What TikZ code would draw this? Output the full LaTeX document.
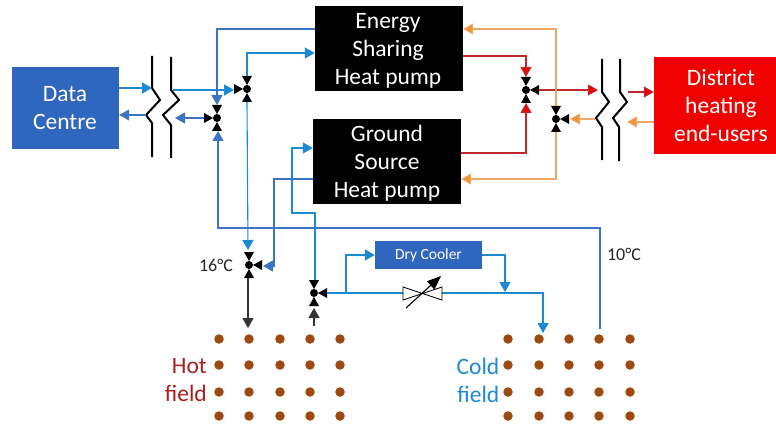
\documentclass[tikz,border=0pt]{standalone}
\usepackage{fontspec}
\setmainfont{Carlito}
\usepackage{xcolor}
\definecolor{boxblue}{HTML}{2F66BE}
\definecolor{lineblue}{HTML}{1B8AD3}
\definecolor{darkblue}{HTML}{3A74C2}
\definecolor{hotred}{HTML}{F00000}
\definecolor{linered}{HTML}{C0272D}
\definecolor{linetan}{HTML}{EDA868}
\definecolor{headorange}{HTML}{F39234}
\definecolor{wellbrown}{HTML}{9C4A12}
\definecolor{hotlabel}{HTML}{A82020}
\usepackage{tikz}
\usetikzlibrary{
  arrows.meta,
  positioning
}
% one black wedge of a valve, pointing at its centre
\newcommand{\valvetip}[2]{\fill[shift={(#1)}, rotate=#2] (4,0) -- (13,5) -- (13,-5) -- cycle;}

\begin{document}
\begin{tikzpicture}[
  x=1pt, y=-1pt,
  block/.style={rectangle, fill=#1, text=white, align=center, inner sep=0pt},
  pump/.style={block=black, minimum width=148pt, minimum height=85pt},
  blocktext/.style={text=white, align=center, inner sep=0pt, font=\fontsize{23.5}{28}\selectfont},
  valve/.style={circle, fill=black, minimum size=8pt, inner sep=0pt},
  hx/.style={line width=2pt, black},
  well/.style={circle, fill=wellbrown, minimum size=9.5pt, inner sep=0pt},
  lbl/.style={font=\fontsize{23.5}{28}\selectfont, align=right, anchor=east, inner sep=0pt},
  temp/.style={font=\fontsize{18}{20}\selectfont, text=black!85},
  ablue/.style={-{Triangle[length=10pt, width=11pt, fill=lineblue]}, lineblue, line width=1.1pt},
  adark/.style={-{Triangle[length=10pt, width=11pt, fill=darkblue]}, darkblue, line width=1.1pt},
  ared/.style={-{Triangle[length=10pt, width=11pt, fill=hotred]}, linered, line width=1.1pt},
  aorange/.style={-{Triangle[length=10pt, width=11pt, fill=headorange]}, linetan, line width=1.1pt},
  ablack/.style={-{Triangle[length=10pt, width=11pt]}, black!80, line width=1.1pt},
]
\useasboundingbox (0,0) rectangle (776,425);

% Blocks
\node[block=boxblue, minimum width=107pt, minimum height=82pt] (centre) at (65.5,108) {};
\node[blocktext] (centretext) at (65,108.5) {Data\\Centre};
\node[pump] (share) at (389,49) {};
\node[blocktext] (sharetext) at (388,51) {Energy\\Sharing\\Heat pump};
\node[pump] (ground) at (387,161.5) {};
\node[blocktext] (groundtext) at (387,163.5) {Ground\\Source\\Heat pump};
\node[block=hotred, minimum width=122pt, minimum height=97pt] (users) at (715,105.5) {};
\node[blocktext] (userstext) at (721,106) {District\\heating\\end-users};
\node[block=boxblue, minimum width=107pt, minimum height=28pt, font=\fontsize{15.5}{17}\selectfont] (cooler) at (428.5,255) {Dry Cooler};

% Valves
\node[valve] (v1) at (247,89) {};
\node[valve] (v2) at (217,118) {};
\node[valve] (v3) at (526,90) {};
\node[valve] (v4) at (556,119) {};
\node[valve] (v5) at (249,265) {};
\node[valve] (v6) at (314,293) {};
\foreach \a in {90,180,270} {\valvetip{v1}{\a}}
\foreach \a in {90,180,270} {\valvetip{v2}{\a}}
\foreach \a in {0,90,270} {\valvetip{v3}{\a}}
\foreach \a in {0,90,270} {\valvetip{v4}{\a}}
\foreach \a in {0,90,270} {\valvetip{v5}{\a}}
\foreach \a in {0,90,270} {\valvetip{v6}{\a}}

% Heat exchangers
\draw[hx] (152,56) -- (152,88) -- (160,100) -- (146,115) -- (152,123) -- (152,157);
\draw[hx] (171,57) -- (171,90) -- (179,100) -- (163,115) -- (171,125) -- (171,158);
\draw[hx] (602,59) -- (602,92) -- (609,102) -- (596,118) -- (602,127) -- (602,160);
\draw[hx] (620,59) -- (620,92) -- (627,102) -- (613,118) -- (619,127) -- (619,161);

% Fields
\foreach \x in {219,249,280,310,340}
  \foreach \y in {339,365,392,416}
    \node[well] (h\x-\y) at (\x,\y) {};
\foreach \x in {508,539,569,599,630}
  \foreach \y in {339,365,392,416}
    \node[well] (c\x-\y) at (\x,\y) {};
\node[lbl, text=hotlabel] (hot) at (207,380.5) {Hot\\field};
\node[lbl, text=lineblue] (cold) at (499.5,380.5) {Cold\\field};
\node[temp] (t16) at (216,265) {16°C};
\node[temp] (t10) at (624,254) {10°C};

% Helper points
\coordinate (hx1a) at (152,88);
\coordinate (hx1b) at (146,115);
\coordinate (hx2a) at (173,90);
\coordinate (hx2b) at (175,118);
\coordinate (hx3a) at (598,90);
\coordinate (hx3b) at (595,119);
\coordinate (hx4a) at (628,92);
\coordinate (hx4b) at (627,122);
\coordinate (v1top) at (247,76);
\coordinate (v1left) at (234,90);
\coordinate (v1low) at (247,102);
\coordinate (v2top) at (217,105);
\coordinate (v2left) at (204,118);
\coordinate (v2low) at (218,131);
\coordinate (v3top) at (526,77);
\coordinate (v3low) at (526,103);
\coordinate (v3right) at (539,90);
\coordinate (v4top) at (556,106);
\coordinate (v4low) at (556,132);
\coordinate (v4right) at (570,119);
\coordinate (v5top) at (248,250);
\coordinate (v5low) at (248,278);
\coordinate (v5right) at (263,266);
\coordinate (v6top) at (315,280);
\coordinate (v6low) at (314,308);
\coordinate (v6right) at (327,293);
\coordinate (cvin) at (403,293);
\coordinate (cvout) at (442,293);
\coordinate (tee) at (346,293);
\coordinate (join) at (505,292);
\coordinate (wellhot) at (248,328);
\coordinate (wellcold) at (543,333);
\coordinate (wellret) at (600,329);
\coordinate (wellin) at (314,326);

% Left side
\draw[ablue] (centre.east |- hx1a) -- (hx1a);
\draw[adark] (hx1b) -- (centre.east |- hx1b);
\draw[ablue] (hx2a) -- (v1left);
\draw[adark] (v2left) -- (hx2b);
\draw[adark] (share.west |- 0,29) -| (v2top);
\draw[ablue] (v1top) |- (share.west |- 0,53);
\draw[ablue] (v1low) -- (v5top);
\draw[adark] (wellret) |- (218,228) -- (v2low);
\draw[ablue] (v6top) |- (292,213) |- (ground.west |- 0,148);
\draw[adark] (ground.west |- 0,179) -| (274,266) -- (v5right);

% Cooling loop
\draw[ablue] (v6right) -- (cvin) (cvout) -| (wellcold);
\draw[ablue] (tee) |- (cooler.west);
\draw[ablue] (cooler.east) -| (join);
\draw[black, line width=0.8pt] (cvin) -- (403,287) -- (442,300) -- (442,287) -- (403,300) -- cycle;
\draw[-{Triangle[length=14pt, width=11pt]}, black, line width=1.1pt] (406,308) -- (441,276);
\draw[ablack] (v5low) -- (wellhot);
\draw[ablack] (wellin) -- (v6low);

% Right side
\draw[ared] (share.east |- 0,56) -| (v3top);
\draw[ared] (ground.east |- 0,153) -| (v3low);
\draw[ared] (v3right) -- (hx3a);
\draw[ared] (hx4a) -- (users.west |- hx4a);
\draw[aorange] (users.west |- hx4b) -- (hx4b);
\draw[aorange] (hx3b) -- (v4right);
\draw[aorange] (v4top) |- (share.east |- 0,29);
\draw[aorange] (v4low) |- (ground.east |- 0,179);

\end{tikzpicture}
\end{document}
